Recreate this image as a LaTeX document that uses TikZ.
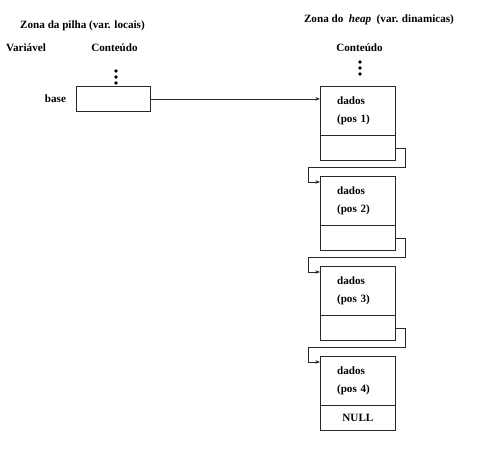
\documentclass[tikz,border=0pt]{standalone}
\usepackage{fontspec}
\setmainfont{Liberation Serif}
\usepackage{tikz}
\usetikzlibrary{arrows.meta, positioning, calc}
\usepackage{xcolor}
\definecolor{linegray}{RGB}{40, 40, 40}
\tikzset{
  lbl/.style      = {font=\fontsize{9.5}{11}\selectfont\bfseries, inner sep=0pt},
  varbox/.style   = {rectangle, draw=linegray, line width=0.7pt, minimum width=2.22cm, minimum height=0.75cm},
  celltop/.style  = {rectangle, draw=linegray, line width=0.7pt, minimum width=2.25cm, minimum height=1.47cm,
                     text width=1.25cm, inner xsep=0.5cm, align=left, font=\fontsize{9.5}{11}\selectfont\bfseries},
  cellbot/.style  = {rectangle, draw=linegray, line width=0.7pt, minimum width=2.25cm, minimum height=0.75cm,
                     inner sep=0pt, font=\fontsize{9.5}{11}\selectfont\bfseries},
  dotmark/.style  = {circle, fill=black, inner sep=0pt, minimum size=3.2pt},
  ptr/.style      = {-{Stealth[length=4pt,width=3pt]}, line width=0.6pt, linegray},
}

\begin{document}
\begin{tikzpicture}[x=0.03cm, y=-0.03cm]
  % moldura com as proporcoes da figura
  \useasboundingbox (0,0) rectangle (481,457);

  % cabecalhos
  \node[lbl] (pilha) at (82.5,26) {Zona da pilha (var. locais)};
  \node[lbl] (heap)  at (379,20) {Zona do \ \textit{heap}\ \ (var. dinamicas)};
  \node[lbl] (var)   at (26,48) {Variável};
  \node[lbl] (contL) at (114.5,48) {Conteúdo};
  \node[lbl] (contR) at (359.5,48) {Conteúdo};

  % reticencias
  \foreach \y in {71,77,83} \node[dotmark] at (116,\y) {};
  \foreach \y in {62,68,74} \node[dotmark] at (360,\y) {};

  % variavel base (pilha)
  \node[varbox, anchor=north west] (base) at (76,86) {};
  \node[lbl] (baselbl) at (55.5,99) {base};

  % celulas da lista (heap)
  \foreach \i in {1,2,3,4} {
    \node[celltop, anchor=north west] (top\i) at (320,{86+90*(\i-1)}) {dados\\[5pt](pos \i)};
    \node[cellbot, below=-0.7pt of top\i] (bot\i) {};
  }
  \node[lbl] at (bot4) {NULL};

  % ponteiros
  \draw[ptr] (base.east) -- (base.east -| top1.west);
  \foreach \i [evaluate=\i as \j using int(\i+1)] in {1,2,3} {
    \draw[ptr] (bot\i.east) -- ++(10,0) -- ++(0,19) -- ++(-97,0) |- ([yshift=-0.18cm]top\j.north west);
  }

\end{tikzpicture}
\end{document}
